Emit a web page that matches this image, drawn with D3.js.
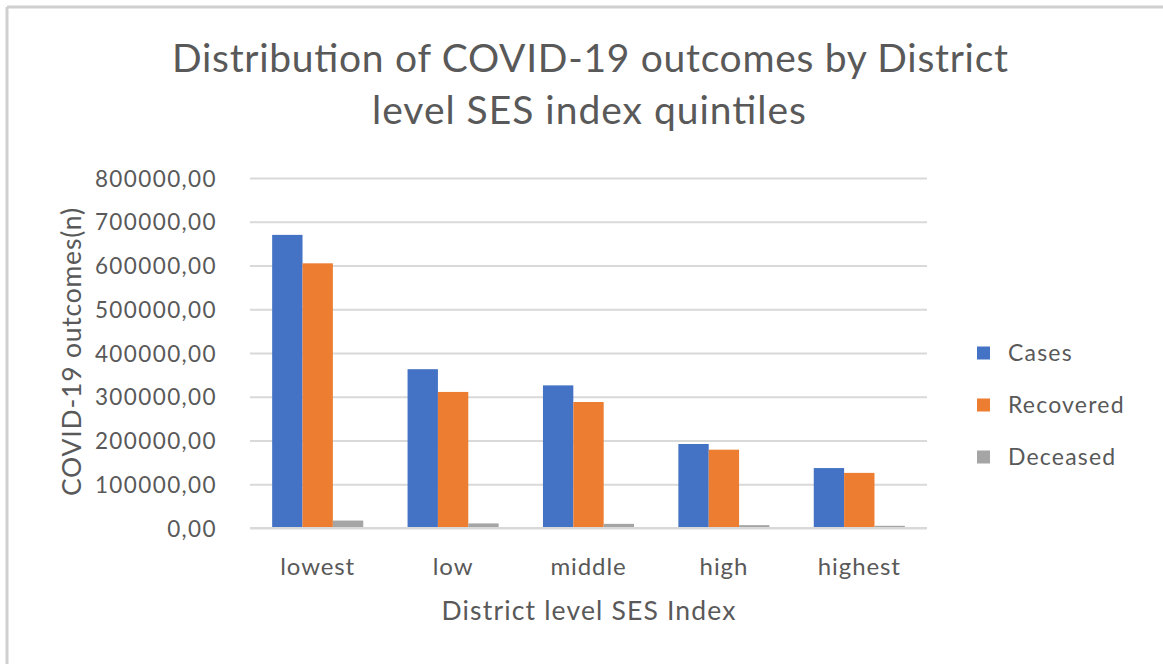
<!DOCTYPE html>
<html>
<head>
<meta charset="utf-8">
<script src="https://cdn.jsdelivr.net/npm/d3@7"></script>
<style>
  html, body { margin: 0; padding: 0; background: #fff; }
  svg { display: block; }
  text { font-family: Lato, "Open Sans", sans-serif; fill: #595959; }
</style>
</head>
<body>
<svg id="chart" width="1163" height="664"></svg>
<script>
const categories = ["lowest", "low", "middle", "high", "highest"];
const seriesNames = ["Cases", "Recovered", "Deceased"];
const cases = [670000, 363000, 326000, 192000, 137000];
const recovered = [605000, 311000, 288000, 179000, 126000];
const deceased = [17000, 10500, 9500, 6500, 5000];
const yTicks = [0, 100000, 200000, 300000, 400000, 500000, 600000, 700000, 800000];
const colors = ["#4472C4", "#ED7D31", "#A5A5A5"];
const titleLines = ["Distribution of COVID-19 outcomes by District", "level SES index quintiles"];
const xTitle = "District level SES Index";
const yTitle = "COVID-19 outcomes(n)";

const seriesValues = [cases, recovered, deceased];
const data = categories.map((c, i) => ({
  cat: c,
  vals: seriesNames.map((s, j) => ({ key: s, value: seriesValues[j][i], color: colors[j] }))
}));

const svg = d3.select("#chart");
const W = 1163, H = 664;
const plot = { left: 250, right: 927, top: 178, bottom: 528 };

// frame (top and left edges)
svg.append("line").attr("x1", 7).attr("x2", W).attr("y1", 7).attr("y2", 7)
  .attr("stroke", "#cfcfcf").attr("stroke-width", 3);
svg.append("line").attr("x1", 7).attr("x2", 7).attr("y1", 7).attr("y2", H)
  .attr("stroke", "#cfcfcf").attr("stroke-width", 3);

const x0 = d3.scaleBand().domain(categories).range([plot.left, plot.right]).paddingInner(0).paddingOuter(0);
const x1 = d3.scaleBand().domain(seriesNames).range([0, x0.bandwidth()]).paddingInner(0).paddingOuter(0.73);
const y = d3.scaleLinear().domain([0, 800000]).range([plot.bottom, plot.top]);

// gridlines
const yAxis = d3.axisLeft(y).tickValues(yTicks).tickSize(-(plot.right - plot.left))
  .tickFormat(d => d3.format(".2f")(d).replace(".", ","));
const gy = svg.append("g").attr("transform", `translate(${plot.left},0)`).call(yAxis);
gy.select(".domain").remove();
gy.selectAll(".tick line").attr("stroke", "#d9d9d9").attr("stroke-width", 2);
gy.selectAll(".tick text")
  .attr("x", -33)
  .attr("dy", "0.36em")
  .style("font-size", "22.5px")
  .style("letter-spacing", "1.4px")
  .attr("fill", "#595959");

// bars
const groups = svg.append("g").selectAll("g").data(data).join("g")
  .attr("transform", d => `translate(${x0(d.cat)},0)`);
groups.selectAll("rect").data(d => d.vals).join("rect")
  .attr("x", d => x1(d.key))
  .attr("width", x1.bandwidth())
  .attr("y", d => y(d.value))
  .attr("height", d => y(0) - y(d.value))
  .attr("fill", d => d.color);

// baseline axis
svg.append("line").attr("x1", plot.left).attr("x2", plot.right)
  .attr("y1", y(0)).attr("y2", y(0)).attr("stroke", "#d9d9d9").attr("stroke-width", 2);

// x category labels
const xAxis = d3.axisBottom(x0).tickSize(0);
const gx = svg.append("g").attr("transform", `translate(0,${plot.bottom})`).call(xAxis);
gx.select(".domain").remove();
gx.selectAll(".tick text")
  .attr("y", 39)
  .attr("dy", "0.35em")
  .style("font-size", "24px")
  .style("letter-spacing", "0.9px")
  .attr("fill", "#595959");

// title
svg.append("text").attr("x", 590).attr("y", 72).attr("text-anchor", "middle")
  .style("font-size", "39px").attr("textLength", 836).attr("lengthAdjust", "spacing")
  .text(titleLines[0]);
svg.append("text").attr("x", 589).attr("y", 124).attr("text-anchor", "middle")
  .style("font-size", "39px").attr("textLength", 434).attr("lengthAdjust", "spacing")
  .text(titleLines[1]);

// axis titles
svg.append("text").attr("x", (plot.left + plot.right) / 2).attr("y", 620).attr("text-anchor", "middle")
  .style("font-size", "26.5px").attr("textLength", 294).attr("lengthAdjust", "spacing")
  .text(xTitle);
svg.append("text").attr("transform", "translate(81,352) rotate(-90)").attr("text-anchor", "middle")
  .style("font-size", "26.5px").attr("textLength", 288).attr("lengthAdjust", "spacing")
  .text(yTitle);

// legend
const legendY = d3.scalePoint().domain(seriesNames).range([353, 457]);
const lg = svg.append("g").selectAll("g").data(seriesNames).join("g")
  .attr("transform", d => `translate(977,${legendY(d)})`);
lg.append("rect").attr("x", 0).attr("y", -6.5).attr("width", 13).attr("height", 13)
  .attr("fill", (d, i) => colors[i]);
lg.append("text").attr("x", 31).attr("dy", "0.36em")
  .style("font-size", "23px").style("letter-spacing", "1.2px")
  .text(d => d);
</script>
</body>
</html>
